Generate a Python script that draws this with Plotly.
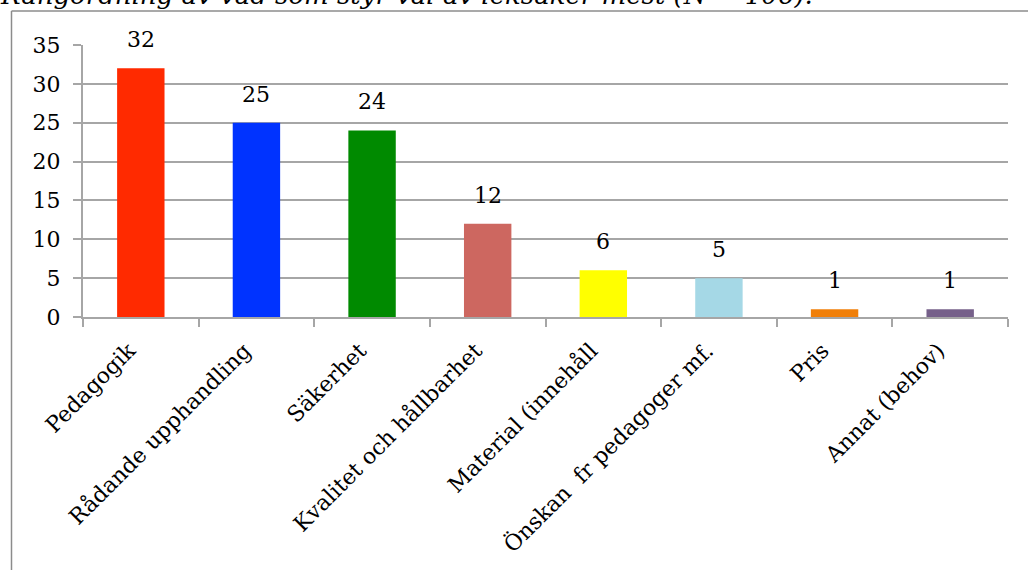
import plotly.graph_objects as go

categories = ["Pedagogik", "Rådande upphandling", "Säkerhet", "Kvalitet och hållbarhet",
              "Material (innehåll", "Önskan  fr pedagoger mf.", "Pris", "Annat (behov)"]
values = [32, 25, 24, 12, 6, 5, 1, 1]
colors = ["#FF2A00", "#0033FF", "#008A00", "#CD6760", "#FFFF00", "#A5D8E6", "#F07F09", "#76608A"]
y_ticks = [0, 5, 10, 15, 20, 25, 30, 35]
title_text = "Rangordning av vad som styr val av leksaker mest (N = 106)."

FONT = "DejaVu Serif"
GRID = "#A6A6A6"

fig = go.Figure()
fig.add_trace(go.Bar(x=categories, y=values, marker=dict(color=colors, line=dict(width=0)),
                     width=0.41, showlegend=False))

for c, v in zip(categories, values):
    fig.add_annotation(x=c, y=v, text=str(v), showarrow=False, yanchor="bottom",
                       yshift=14, font=dict(family=FONT, size=22, color="black"))

fig.add_annotation(xref="paper", yref="paper", x=-0.092, y=1.12, xanchor="left", yanchor="bottom",
                   text="<i>" + title_text + "</i>", showarrow=False,
                   font=dict(family=FONT, size=26, color="black"))

# outer frame lines
fig.add_shape(type="line", xref="paper", yref="paper", x0=-0.0773, x1=-0.0773, y0=1.125, y1=-0.95,
              line=dict(color="#8C8C8C", width=1.5))
fig.add_shape(type="line", xref="paper", yref="paper", x0=-0.0773, x1=1.03, y0=1.125, y1=1.125,
              line=dict(color="#8C8C8C", width=1.5))

fig.update_layout(
    width=1028, height=570,
    margin=dict(l=83, r=20, t=45, b=253),
    plot_bgcolor="white", paper_bgcolor="white",
    font=dict(family=FONT, size=22, color="black"),
    bargap=0.59,
)
fig.update_xaxes(type="category", tickangle=-45, showline=True, linecolor=GRID, linewidth=2,
                 ticks="outside", tickson="boundaries", ticklen=8, tickcolor=GRID, tickwidth=2,
                 showgrid=False, tickfont=dict(family=FONT, size=22),
                 ticklabelstandoff=10, ticklabelshift=-12)
fig.update_yaxes(range=[0, 35], tickvals=y_ticks, showline=True, linecolor=GRID, linewidth=2,
                 ticks="outside", ticklen=8, tickcolor=GRID, tickwidth=2,
                 showgrid=True, gridcolor=GRID, gridwidth=2, zeroline=False,
                 tickfont=dict(family=FONT, size=22), ticklabelstandoff=8)

fig.write_html("out.html")
